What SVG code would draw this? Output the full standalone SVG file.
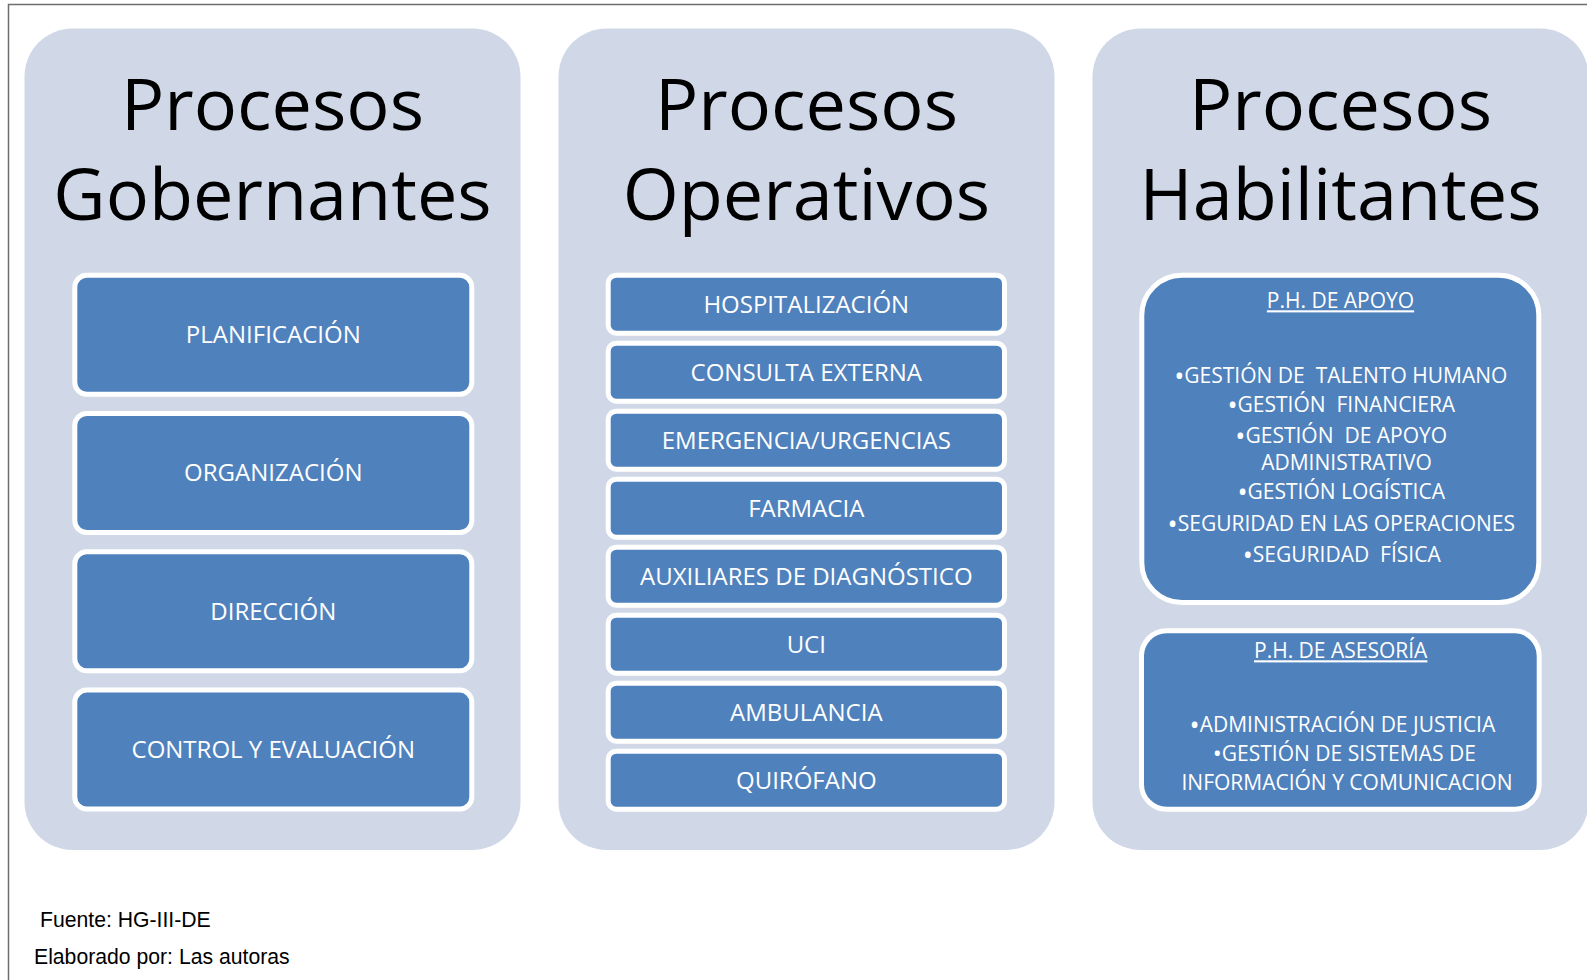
<svg xmlns="http://www.w3.org/2000/svg" width="1587" height="980" viewBox="0 0 1587 980">
<style>
.bg{fill:#ffffff}
.frame{fill:none;stroke:#6e6e6e;stroke-width:1.5}
.panel{fill:#D0D8E8}
.box{fill:#4F81BD;stroke:#ffffff;stroke-width:5}
.title{font-family:"Open Sans","Noto Sans","DejaVu Sans",sans-serif;font-size:72px;fill:#000000;text-anchor:middle}
.lbl{font-family:"Open Sans","Noto Sans","DejaVu Sans",sans-serif;font-size:24px;fill:#ffffff;text-anchor:middle}
.sm{font-family:"Open Sans","Noto Sans","DejaVu Sans",sans-serif;font-size:21px;fill:#ffffff;text-anchor:middle;white-space:pre}
.b{font-size:27px}
.b2{font-size:24px}
.ul{text-decoration:underline}
.foot{font-family:"Liberation Sans",Arial,sans-serif;font-size:21.2px;fill:#000000}
</style>
<rect class="bg" x="0" y="0" width="1587" height="980"/>

<g id="panel-gobernantes">
<rect class="panel" x="24.5" y="28.5" width="496" height="821.5" rx="48"/>
<text class="title" x="272.5" y="129.5">Procesos</text>
<text class="title" x="272.5" y="220">Gobernantes</text>
</g>
<g id="node-planificacion">
<rect class="box" x="74.8" y="275.2" width="397" height="119" rx="12"/>
<text class="lbl" x="273.3" y="343">PLANIFICACIÓN</text>
</g>
<g id="node-organizacion">
<rect class="box" x="74.8" y="413.5" width="397" height="119" rx="12"/>
<text class="lbl" x="273.3" y="481.3">ORGANIZACIÓN</text>
</g>
<g id="node-direccion">
<rect class="box" x="74.8" y="551.8" width="397" height="119" rx="12"/>
<text class="lbl" x="273.3" y="619.6">DIRECCIÓN</text>
</g>
<g id="node-control">
<rect class="box" x="74.8" y="690.1" width="397" height="119" rx="12"/>
<text class="lbl" x="273.3" y="757.9">CONTROL Y EVALUACIÓN</text>
</g>

<g id="panel-operativos">
<rect class="panel" x="558.5" y="28.5" width="496" height="821.5" rx="48"/>
<text class="title" x="806.5" y="129.5">Procesos</text>
<text class="title" x="806.5" y="220">Operativos</text>
</g>
<g id="node-hospitalizacion">
<rect class="box" x="608.2" y="275.2" width="396.3" height="58" rx="8"/>
<text class="lbl" x="806.3" y="312.5">HOSPITALIZACIÓN</text>
</g>
<g id="node-consulta">
<rect class="box" x="608.2" y="343.2" width="396.3" height="58" rx="8"/>
<text class="lbl" x="806.3" y="380.5">CONSULTA EXTERNA</text>
</g>
<g id="node-emergencia">
<rect class="box" x="608.2" y="411.2" width="396.3" height="58" rx="8"/>
<text class="lbl" x="806.3" y="448.5">EMERGENCIA/URGENCIAS</text>
</g>
<g id="node-farmacia">
<rect class="box" x="608.2" y="479.2" width="396.3" height="58" rx="8"/>
<text class="lbl" x="806.3" y="516.5">FARMACIA</text>
</g>
<g id="node-auxiliares">
<rect class="box" x="608.2" y="547.2" width="396.3" height="58" rx="8"/>
<text class="lbl" x="806.3" y="584.5">AUXILIARES DE DIAGNÓSTICO</text>
</g>
<g id="node-uci">
<rect class="box" x="608.2" y="615.2" width="396.3" height="58" rx="8"/>
<text class="lbl" x="806.3" y="652.5">UCI</text>
</g>
<g id="node-ambulancia">
<rect class="box" x="608.2" y="683.2" width="396.3" height="58" rx="8"/>
<text class="lbl" x="806.3" y="720.5">AMBULANCIA</text>
</g>
<g id="node-quirofano">
<rect class="box" x="608.2" y="751.2" width="396.3" height="58" rx="8"/>
<text class="lbl" x="806.3" y="788.5">QUIRÓFANO</text>
</g>

<g id="panel-habilitantes">
<rect class="panel" x="1092.5" y="28.5" width="496" height="821.5" rx="48"/>
<text class="title" x="1340.5" y="129.5">Procesos</text>
<text class="title" x="1340.5" y="220">Habilitantes</text>
</g>
<g id="node-apoyo">
<rect class="box" x="1141.8" y="275.2" width="397" height="327.3" rx="40"/>
<text class="sm ul" x="1340.5" y="308.3">P.H. DE APOYO</text>
<text class="sm" x="1340.8" y="382.7"><tspan class="b" dy="3">•</tspan><tspan dy="-3">GESTIÓN DE  TALENTO HUMANO</tspan></text>
<text class="sm" x="1341.3" y="411.7"><tspan class="b" dy="3">•</tspan><tspan dy="-3">GESTIÓN  FINANCIERA</tspan></text>
<text class="sm" x="1341.2" y="443"><tspan class="b" dy="3">•</tspan><tspan dy="-3">GESTIÓN  DE APOYO</tspan><tspan x="1346.5" y="470">ADMINISTRATIVO</tspan></text>
<text class="sm" x="1341.2" y="499.3"><tspan class="b" dy="3">•</tspan><tspan dy="-3">GESTIÓN LOGÍSTICA</tspan></text>
<text class="sm" x="1341.3" y="530.7"><tspan class="b" dy="3">•</tspan><tspan dy="-3">SEGURIDAD EN LAS OPERACIONES</tspan></text>
<text class="sm" x="1341.7" y="561.7"><tspan class="b" dy="3">•</tspan><tspan dy="-3">SEGURIDAD  FÍSICA</tspan></text>
</g>
<g id="node-asesoria">
<rect class="box" x="1141.5" y="630.8" width="397.7" height="178.4" rx="25"/>
<text class="sm ul" x="1340.7" y="658.3">P.H. DE ASESORÍA</text>
<text class="sm" x="1342.4" y="732"><tspan class="b" dy="3">•</tspan><tspan dy="-3">ADMINISTRACIÓN DE JUSTICIA</tspan></text>
<text class="sm" x="1344.3" y="760.5"><tspan class="b2" dy="1">•</tspan><tspan dy="-1">GESTIÓN DE SISTEMAS DE</tspan></text>
<text class="sm" x="1347" y="790">INFORMACIÓN Y COMUNICACION</text>
</g>

<g id="connectors"></g>

<path class="frame" d="M8.5 980 L8.5 4.5 L1587 4.5"/>
<text class="foot" x="40" y="927">Fuente: HG-III-DE</text>
<text class="foot" x="34" y="964">Elaborado por: Las autoras</text>
</svg>
